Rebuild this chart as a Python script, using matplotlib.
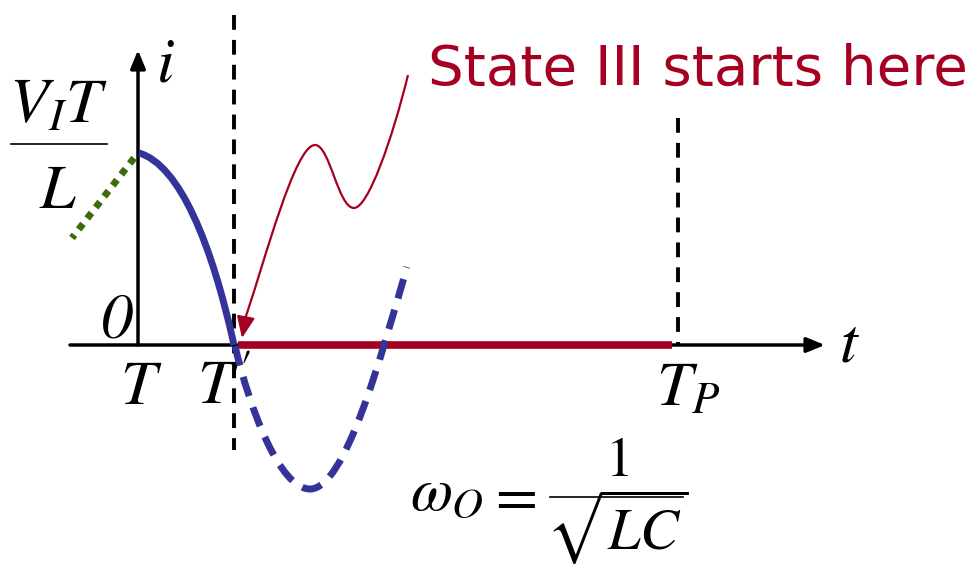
import numpy as np
import matplotlib
matplotlib.use('Agg')
import matplotlib.pyplot as plt
from matplotlib.path import Path
from matplotlib.patches import PathPatch

plt.rcParams['mathtext.fontset'] = 'stix'

# diagram frame (pixel-like units, y grows downward)
W, H = 978, 565
t_axis_y = 345
t_axis_x0, t_axis_x1 = 70, 825
i_axis_x = 138
i_axis_top = 50

t_T, t_Tprime, t_TP = 138, 234, 678

# solid blue current (state II), cubic bezier: start, ctrl, ctrl, end
blue_solid = [(139, 153), (180, 165), (212, 245), (234, 345)]

# dashed blue continuation of the oscillation (two cubic pieces)
blue_dash = [(235, 346), (250, 410), (280, 489), (310, 489),
             (345, 489), (380, 360), (407, 267)]

# green dotted ramp (state I)
green_t = [134, 72]
green_i = [158, 238]

# red zero current (state III)
red_t = [238, 672]
red_i = [345, 345]

# annotation squiggle (three cubic pieces) and arrow tip
note = [(408, 75), (392, 140), (368, 208), (354, 208),
        (338, 208), (330, 145), (315, 145),
        (295, 145), (265, 260), (246, 316)]
note_tip = (242, 338)

blue = '#333399'
red = '#a50021'
green = '#3c6a0c'


def bezier(pts):
    codes = [Path.MOVETO] + [Path.CURVE4] * (len(pts) - 1)
    return Path(pts, codes)


fig = plt.figure(figsize=(W / 100, H / 100), dpi=100)
ax = fig.add_axes([0, 0, 1, 1])
ax.set_xlim(0, W)
ax.set_ylim(H, 0)
ax.axis('off')

# axes with arrows
head = '-|>,head_length=1.1,head_width=0.45'
ax.annotate('', xy=(t_axis_x1, t_axis_y), xytext=(t_axis_x0, t_axis_y),
            arrowprops=dict(arrowstyle=head, lw=2.5, color='black', shrinkA=0, shrinkB=0),
            zorder=1)
ax.annotate('', xy=(i_axis_x, i_axis_top), xytext=(i_axis_x, t_axis_y),
            arrowprops=dict(arrowstyle=head, lw=2.5, color='black', shrinkA=0, shrinkB=0),
            zorder=1)

# dashed markers
ax.plot([t_Tprime, t_Tprime], [15, 450], color='black', lw=2.8, dashes=(3.8, 2.6), zorder=2)
ax.plot([t_TP, t_TP], [118, t_axis_y], color='black', lw=2.8, dashes=(3.8, 2.6), zorder=2)

ax.plot(green_t, green_i, color=green, lw=5, dashes=(1, 1), solid_capstyle='butt', zorder=4)
ax.plot(red_t, red_i, color=red, lw=5.5, solid_capstyle='butt', zorder=4)
ax.add_patch(PathPatch(bezier(blue_dash), fill=False, edgecolor=blue, lw=5,
                       linestyle=(0, (2.9, 1.7)), capstyle='butt', zorder=5))
ax.add_patch(PathPatch(bezier(blue_solid), fill=False, edgecolor=blue, lw=5,
                       capstyle='butt', zorder=5))

# annotation
ax.add_patch(PathPatch(bezier(note), fill=False, edgecolor=red, lw=1.6, zorder=6))
ax.annotate('', xy=note_tip, xytext=note[-1],
            arrowprops=dict(arrowstyle='-|>,head_length=1.3,head_width=0.55', lw=1.6,
                            color=red, shrinkA=0, shrinkB=0), zorder=6)
ax.text(428, 85, 'State III starts here', color=red, fontsize=40.5,
        family='DejaVu Sans', ha='left', va='baseline')

# labels
fs = 46
ax.text(165, 63, r'$i$', fontsize=fs, ha='center', va='center')
ax.text(849, 343, r'$t$', fontsize=fs, ha='center', va='center')
ax.text(117, 322, '0', fontsize=46, family='STIXGeneral', style='italic',
        ha='center', va='center')
ax.text(141, 386, r'$T$', fontsize=fs, ha='center', va='center')
ax.text(224, 386, r"$T'$", fontsize=fs, ha='center', va='center')
ax.text(688, 388, r'$T_P$', fontsize=fs, ha='center', va='center')

# V_I T / L
ax.text(59, 123, r'$V_I T$', fontsize=fs, ha='center', va='baseline')
ax.plot([11, 107], [144, 144], color='black', lw=1.2)
ax.text(58, 208, r'$L$', fontsize=fs, ha='center', va='baseline')

# omega_O = 1 / sqrt(LC)
ax.text(410, 510, r'$\omega_O$', fontsize=44, ha='left', va='baseline')
ax.text(512, 497, r'$=$', fontsize=44, ha='center', va='center')
ax.plot([550, 683], [497, 497], color='black', lw=1.2)
ax.text(617, 476, r'$1$', fontsize=40, ha='center', va='baseline')
ax.text(617, 549, r'$\sqrt{LC}$', fontsize=42, ha='center', va='baseline')

fig.savefig('out.png', dpi=100)
